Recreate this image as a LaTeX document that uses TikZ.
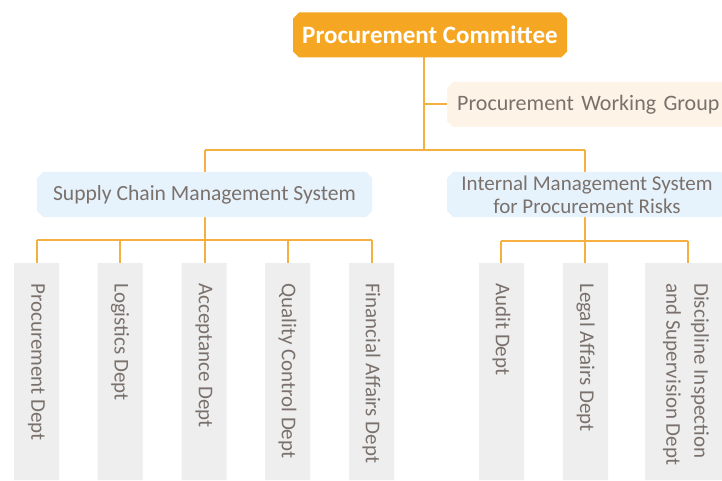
\documentclass[tikz,border=0pt]{standalone}
\usepackage{fontspec}
\setmainfont{Carlito}
\usetikzlibrary{shapes.misc}
\definecolor{org}{HTML}{F5A623}
\definecolor{lineorg}{HTML}{F6B040}
\definecolor{txtgray}{HTML}{7A716C}
\definecolor{peach}{HTML}{FDF3E7}
\definecolor{lblue}{HTML}{E7F3FC}
\definecolor{dgray}{HTML}{EEEEEE}
\tikzset{
  box/.style={chamfered rectangle, chamfered rectangle xsep=3pt, chamfered rectangle ysep=3pt, draw=none, text=txtgray, inner ysep=0pt},
  topbox/.style={box, fill=org, text=white, font=\fontsize{25}{28}\selectfont\bfseries, minimum width=274pt, minimum height=45pt},
  midbox/.style={box, fill=lblue, font=\fontsize{21.6}{23}\selectfont, minimum height=45pt},
  wgbox/.style={box, fill=peach, font=\fontsize{22}{23}\selectfont, minimum height=45pt, text width=276pt, inner xsep=7pt, align=left},
  deptbox/.style={box, fill=dgray, minimum width=45pt, minimum height=217pt, inner sep=0pt},
  depttxt/.style={rotate=-90, anchor=west, text=txtgray, font=\fontsize{21}{28}\selectfont, align=left, inner sep=0pt},
  conn/.style={draw=lineorg, line width=1.4pt}
}
\begin{document}
\begin{tikzpicture}[x=1pt,y=-1pt]
\useasboundingbox (0,0) rectangle (722,481);
\clip (0,0) rectangle (722,481);
\fill[white] (0,0) rectangle (722,481);
% coordinates
\coordinate (t0) at (424,57);
\coordinate (tb) at (424,150);
\coordinate (twg) at (424,104);
\coordinate (hl) at (205,150);
\coordinate (hr) at (585,150);
\coordinate (ll) at (37,240);
\coordinate (lr) at (372,240);
\coordinate (rl) at (501,241);
\coordinate (rr) at (688,241);
% connectors first (behind)
\draw[conn] (t0) -- (tb);
\draw[conn] (twg) -- (447,104) coordinate (wgl);
\draw[conn] (hl) -- (hr);
\draw[conn] (hl) -- (205,172);
\draw[conn] (hr) -- (585,172);
\draw[conn] (205,217) -- (205,240);
\draw[conn] (585,217) -- (585,241);
\draw[conn] (ll) -- (lr);
\draw[conn] (rl) -- (rr);
\foreach \x in {37,120,205,288,372} \draw[conn] (\x,240) -- (\x,263);
\foreach \x in {501,585,688} \draw[conn] (\x,241) -- (\x,263);
% nodes
\node[topbox] (pc) at (430,35) {Procurement Committee};
\node[wgbox, anchor=west] (wg) at (447,104.5) {Procurement Working Group};
\node[midbox, minimum width=335pt] (scm) at (204.5,194.5) {Supply Chain Management System};
\node[midbox, minimum width=280pt, align=center, font=\fontsize{21}{23}\selectfont] (ims) at (587,194.5) {Internal Management System\\for Procurement Risks};
% department boxes
\node[deptbox] (d1) at (36.5,371.5) {};
\node[deptbox] (d2) at (120,371.5) {};
\node[deptbox] (d3) at (204,371.5) {};
\node[deptbox] (d4) at (287.5,371.5) {};
\node[deptbox] (d5) at (371.5,371.5) {};
\node[deptbox] (d6) at (501.5,371.5) {};
\node[deptbox] (d7) at (585.5,371.5) {};
\node[deptbox, minimum width=86pt] (d8) at (688,371.5) {};
% department texts
\node[depttxt] (t1) at (36.5,283) {Procurement Dept};
\node[depttxt] (t2) at (120,283) {Logistics Dept};
\node[depttxt] (t3) at (204,283) {Acceptance Dept};
\node[depttxt] (t4) at (287.5,283) {Quality Control Dept};
\node[depttxt] (t5) at (371.5,283) {Financial Affairs Dept};
\node[depttxt] (t6) at (501.5,283) {Audit Dept};
\node[depttxt] (t7) at (585.5,283) {Legal Affairs Dept};
\node[depttxt] (t8) at (686,283) {Discipline Inspection\\and Supervision Dept};
\end{tikzpicture}
\end{document}
